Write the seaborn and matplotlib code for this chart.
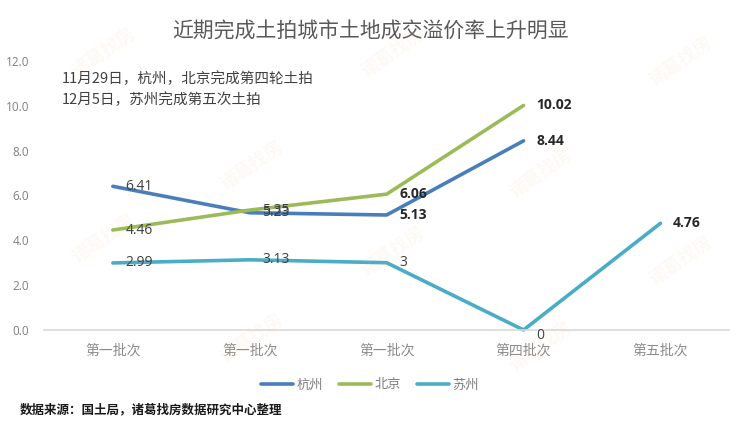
import numpy as np
import pandas as pd
import matplotlib
matplotlib.use('Agg')
import matplotlib.pyplot as plt
import seaborn as sns

# data
batches = ['第一批次', '第一批次', '第一批次', '第四批次', '第五批次']
cities = ['杭州', '北京', '苏州']
hangzhou = [6.41, 5.23, 5.13, 8.44, np.nan]
beijing = [4.46, 5.35, 6.06, 10.02, np.nan]
suzhou = [2.99, 3.13, 3, 0, 4.76]
notes = ['11月29日，杭州，北京完成第四轮土拍', '12月5日，苏州完成第五次土拍']
title = '近期完成土拍城市土地成交溢价率上升明显'
source = '数据来源：国土局，诸葛找房数据研究中心整理'

colors = ['#4a7ebb', '#9bbb59', '#4bacc6']

sns.set_theme(style='white')
plt.rcParams['font.family'] = ['Noto Sans CJK SC', 'DejaVu Sans']

rows = []
for city, vals in zip(cities, [hangzhou, beijing, suzhou]):
    for i, v in enumerate(vals):
        rows.append({'批次': i, '溢价率': v, '城市': city})
df = pd.DataFrame(rows).dropna()

fig = plt.figure(figsize=(7.4, 4.33), dpi=100)
ax = fig.add_axes([0.060, 0.238, 0.925, 0.621])

sns.lineplot(data=df, x='批次', y='溢价率', hue='城市', palette=colors,
             sort=False, linewidth=2.6, ax=ax, legend=False)

# data labels to the right of each point
for city, vals in zip(cities, [hangzhou, beijing, suzhou]):
    for i, v in enumerate(vals):
        if np.isnan(v):
            continue
        bold = (city != '苏州' and i >= 2) or (city == '苏州' and i == 4)
        txt = f'{v:g}' if city == '苏州' and i in (2, 3) else f'{v:.2f}'
        dy = -4 if v == 0 else 0
        ax.annotate(txt, (i, v), xytext=(9, dy), textcoords='offset points',
                    ha='left', va='center', fontsize=10,
                    family=['Open Sans', 'DejaVu Sans'],
                    fontweight='bold' if bold else 'normal',
                    color='#262626' if bold else '#404040')

ax.set_xlim(-0.5, 4.5)
ax.set_ylim(0, 12)
ax.set_yticks(np.arange(0, 12.1, 2))
ax.set_yticklabels([f'{t:.1f}' for t in np.arange(0, 12.1, 2)],
                   fontsize=8.5, color='#7f7f7f', family=['Open Sans', 'DejaVu Sans'])
ax.set_xticks(range(len(batches)))
ax.set_xticklabels(batches, fontsize=10, color='#8c8c8c')
ax.tick_params(axis='x', length=0, pad=10)
ax.tick_params(axis='y', length=0, pad=11)
ax.set_xlabel('')
ax.set_ylabel('')
for s in ['top', 'right', 'left']:
    ax.spines[s].set_visible(False)
ax.spines['bottom'].set_color('#d9d9d9')
ax.spines['bottom'].set_linewidth(1.2)
for line in ax.lines:
    line.set_clip_on(False)

ax.text(0.025, 0.935, notes[0], transform=ax.transAxes, fontsize=10.5,
        color='#404040', va='center')
ax.text(0.025, 0.855, notes[1], transform=ax.transAxes, fontsize=10.5,
        color='#404040', va='center')

fig.text(0.5, 0.926, title, ha='center', va='center', fontsize=15,
         color='#595959')

handles = [plt.Line2D([], [], color=c, linewidth=2.6) for c in colors]
fig.legend(handles, cities, loc='center', bbox_to_anchor=(0.5, 0.111),
           ncol=3, frameon=False, fontsize=9.5, handlelength=2.4,
           handletextpad=0.3, columnspacing=1.2, labelcolor='#7f7f7f')

fig.text(0.027, 0.053, source, ha='left', va='center', fontsize=9,
         fontweight='bold', color='#1a1a1a')

# faint watermark
for wx, wy in [(0.14, 0.88), (0.53, 0.88), (0.92, 0.86), (0.34, 0.62),
               (0.73, 0.60), (0.14, 0.45), (0.53, 0.42), (0.92, 0.40),
               (0.34, 0.22), (0.73, 0.20)]:
    fig.text(wx, wy, '诸葛找房', fontsize=13, rotation=35, color='#f0b070',
             alpha=0.08, ha='center', va='center', fontweight='bold')

fig.savefig('out.png', dpi=100)
